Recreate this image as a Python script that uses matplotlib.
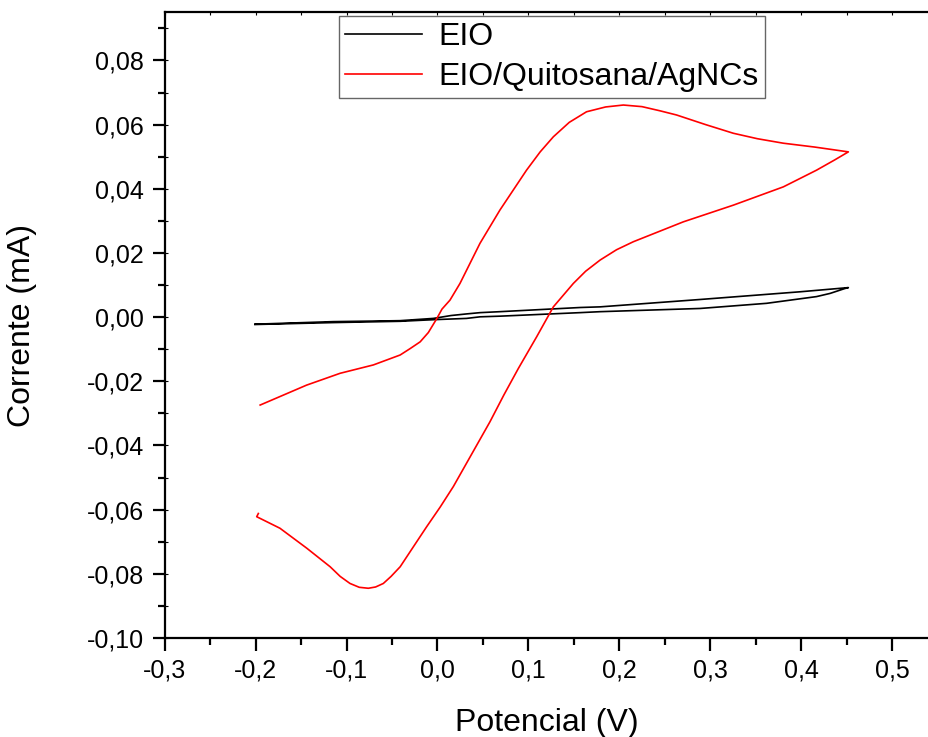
#!/usr/bin/env python3
"""Cyclic voltammograms: bare EIO vs EIO/Quitosana/AgNCs."""

import matplotlib
matplotlib.use("Agg")
from matplotlib import pyplot as plt
from matplotlib.ticker import FuncFormatter, MultipleLocator

plt.rcParams["font.family"] = ["Liberation Sans", "DejaVu Sans"]

# EIO (bare electrode): anodic sweep then cathodic return
eio_v = [-0.2007, -0.1145, -0.063, -0.041, -0.0045, 0.015, 0.032, 0.047, 0.0688, 0.157, 0.179, 0.289, 0.399, 0.452,
         0.448, 0.432, 0.417, 0.362, 0.289, 0.179, 0.157, 0.0688, 0.047, 0.032, -0.0045, -0.041, -0.1145, -0.2007]
eio_i = [-0.0022, -0.0014, -0.0012, -0.0011, -0.0004, 0.0005, 0.0010, 0.0014, 0.0017, 0.0030, 0.0032, 0.0055, 0.0079, 0.0092,
         0.0089, 0.0074, 0.0064, 0.0043, 0.0027, 0.0017, 0.0014, 0.0003, 0.0001, -0.0004, -0.0008, -0.0013, -0.0017, -0.0023]

# EIO/Quitosana/AgNCs: anodic sweep then cathodic return
ag_v = [-0.195, -0.144, -0.107, -0.0705, -0.041, -0.03, -0.019, -0.01, -0.0008, 0.005, 0.0138, 0.0248, 0.0468,
        0.0688, 0.098, 0.113, 0.1275, 0.145, 0.164, 0.185, 0.2045, 0.225, 0.2448, 0.263, 0.295, 0.3255,
        0.352, 0.3805, 0.415, 0.452,
        0.437, 0.417, 0.3805, 0.3255, 0.2705, 0.2155, 0.197, 0.179, 0.163, 0.1495, 0.1275, 0.1092, 0.089,
        0.073, 0.0578, 0.0175, 0.003, -0.0118, -0.027, -0.041, -0.051, -0.0595, -0.068, -0.076, -0.086,
        -0.0962, -0.107, -0.118, -0.1438, -0.1732, -0.1988, -0.197]
ag_i = [-0.0274, -0.0212, -0.0175, -0.0149, -0.0118, -0.0098, -0.0077, -0.0048, -0.0005, 0.0025, 0.0053, 0.0105, 0.0230,
        0.0334, 0.0458, 0.0515, 0.0562, 0.0607, 0.0640, 0.0655, 0.0661, 0.0656, 0.0643, 0.0630, 0.0600, 0.0573,
        0.0556, 0.0542, 0.0530, 0.0515,
        0.0490, 0.0458, 0.0406, 0.0349, 0.0297, 0.0235, 0.0210, 0.0178, 0.0143, 0.0105, 0.0032, -0.0061, -0.0160,
        -0.0243, -0.0326, -0.0528, -0.0592, -0.0653, -0.0718, -0.0778, -0.0808, -0.0830, -0.0841, -0.0845, -0.0842,
        -0.0830, -0.0808, -0.0778, -0.0720, -0.0658, -0.0622, -0.0612]

series_labels = ["EIO", "EIO/Quitosana/AgNCs"]


def comma(val, pos, nd):
    s = f"{val:.{nd}f}".replace(".", ",")
    if s.startswith("-") and float(s.replace(",", ".")) == 0:
        s = s[1:]
    return s


def main() -> None:
    W, H = 929, 737
    fig = plt.figure(figsize=(W / 100, H / 100), dpi=100)
    x0, x1, y0, y1 = 164.7, 929, 12.3, 638
    ax = fig.add_axes([x0 / W, 1 - y1 / H, (x1 - x0) / W, (y1 - y0) / H])

    ax.plot(eio_v, eio_i, color="black", lw=1.2, label=series_labels[0])
    ax.plot(ag_v, ag_i, color="red", lw=1.2, label=series_labels[1])

    ax.set_xlim(-0.3, 0.5407)
    ax.set_ylim(-0.10, 0.0950)
    ax.spines["right"].set_visible(False)
    for sp in ("left", "bottom", "top"):
        ax.spines[sp].set_linewidth(1.6)

    ax.xaxis.set_major_locator(MultipleLocator(0.1))
    ax.xaxis.set_minor_locator(MultipleLocator(0.05))
    ax.yaxis.set_major_locator(MultipleLocator(0.02))
    ax.yaxis.set_minor_locator(MultipleLocator(0.01))
    ax.xaxis.set_major_formatter(FuncFormatter(lambda v, p: comma(v, p, 1)))
    ax.yaxis.set_major_formatter(FuncFormatter(lambda v, p: comma(v, p, 2)))
    ax.tick_params(which="major", direction="out", length=9, width=1.6, labelsize=18, pad=6)
    ax.tick_params(which="minor", direction="out", length=5, width=1.6)

    # short inward ticks on the top and left edges
    top = ax.secondary_xaxis("top")
    top.xaxis.set_major_locator(MultipleLocator(0.05))
    top.tick_params(direction="in", length=2.5, width=0.8, labeltop=False)
    top.spines["top"].set_visible(False)
    left = ax.secondary_yaxis("left")
    left.yaxis.set_major_locator(MultipleLocator(0.01))
    left.tick_params(direction="in", length=2.5, width=0.8, labelleft=False)
    left.spines["left"].set_visible(False)

    ax.set_xlabel("Potencial (V)", fontsize=23, labelpad=18)
    ax.set_ylabel("Corrente (mA)", fontsize=23, labelpad=36)

    leg = ax.legend(loc="upper left", bbox_to_anchor=(339 / W, 1 - 16 / H), bbox_transform=fig.transFigure,
                    fontsize=23, frameon=True, fancybox=False, borderpad=0.2, borderaxespad=0,
                    handlelength=2.4, handletextpad=0.5, labelspacing=0.3)
    leg.get_frame().set_edgecolor("#404040")
    leg.get_frame().set_linewidth(1.0)

    fig.savefig("out.png", dpi=100)
    plt.close(fig)


if __name__ == "__main__":
    main()
